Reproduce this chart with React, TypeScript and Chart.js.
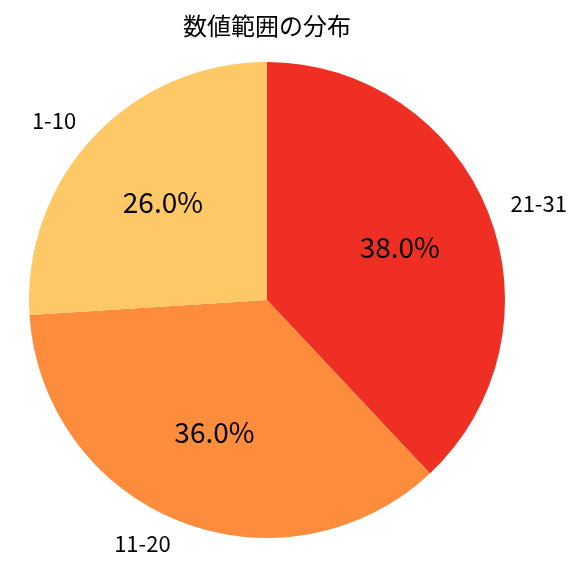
import React, { useEffect, useRef } from "react";
import { Chart, registerables } from "chart.js";

Chart.register(...registerables);

const categories = ["21-31", "11-20", "1-10"];
const values = [38, 36, 26];
const colors = ["#EF2F23", "#FD8D3C", "#FEC866"];
const titleText = "数値範囲の分布";
const FONT = "'Noto Sans CJK JP', 'Noto Sans', sans-serif";

const labelPlugin = {
  id: "pieLabels",
  afterDatasetsDraw(chart: any) {
    const ctx = chart.ctx;
    const meta = chart.getDatasetMeta(0);
    const total = values.reduce((a, b) => a + b, 0);
    ctx.save();
    ctx.fillStyle = "#000";
    meta.data.forEach((arc: any, i: number) => {
      const mid = (arc.startAngle + arc.endAngle) / 2;
      const r = arc.outerRadius;
      const cx = arc.x;
      const cy = arc.y;
      // percentage label
      const px = cx + Math.cos(mid) * r * 0.6;
      const py = cy + Math.sin(mid) * r * 0.6;
      ctx.font = `28px ${FONT}`;
      ctx.textAlign = "center";
      ctx.textBaseline = "middle";
      ctx.fillText(((values[i] / total) * 100).toFixed(1) + "%", px, py);
      // category label
      const lx = cx + Math.cos(mid) * r * 1.1;
      const ly = cy + Math.sin(mid) * r * 1.1;
      ctx.font = `22px ${FONT}`;
      ctx.textAlign = Math.cos(mid) >= 0 ? "left" : "right";
      ctx.fillText(categories[i], lx, ly);
    });
    ctx.restore();
  },
};

export default function App() {
  const ref = useRef<HTMLCanvasElement>(null);
  useEffect(() => {
    document.body.style.margin = "0";
    const chart = new Chart(ref.current as HTMLCanvasElement, {
      type: "pie",
      data: {
        labels: categories,
        datasets: [
          {
            data: values,
            backgroundColor: colors,
            borderWidth: 0,
          },
        ],
      },
      options: {
        animation: false,
        responsive: false,
        layout: { padding: { left: 29, right: 71, top: 0, bottom: 38 } },
        plugins: {
          legend: { display: false },
          tooltip: { enabled: false },
          title: {
            display: true,
            text: titleText,
            color: "#000",
            font: { family: FONT, size: 24, weight: "normal" },
            padding: { top: 11, bottom: 22.2 },
          },
        },
      },
      plugins: [labelPlugin],
    });
    return () => chart.destroy();
  }, []);
  return (
    <div style={{ width: 576, height: 576, background: "#fff" }}>
      <canvas ref={ref} width={576} height={576} style={{ width: 576, height: 576 }} />
    </div>
  );
}
